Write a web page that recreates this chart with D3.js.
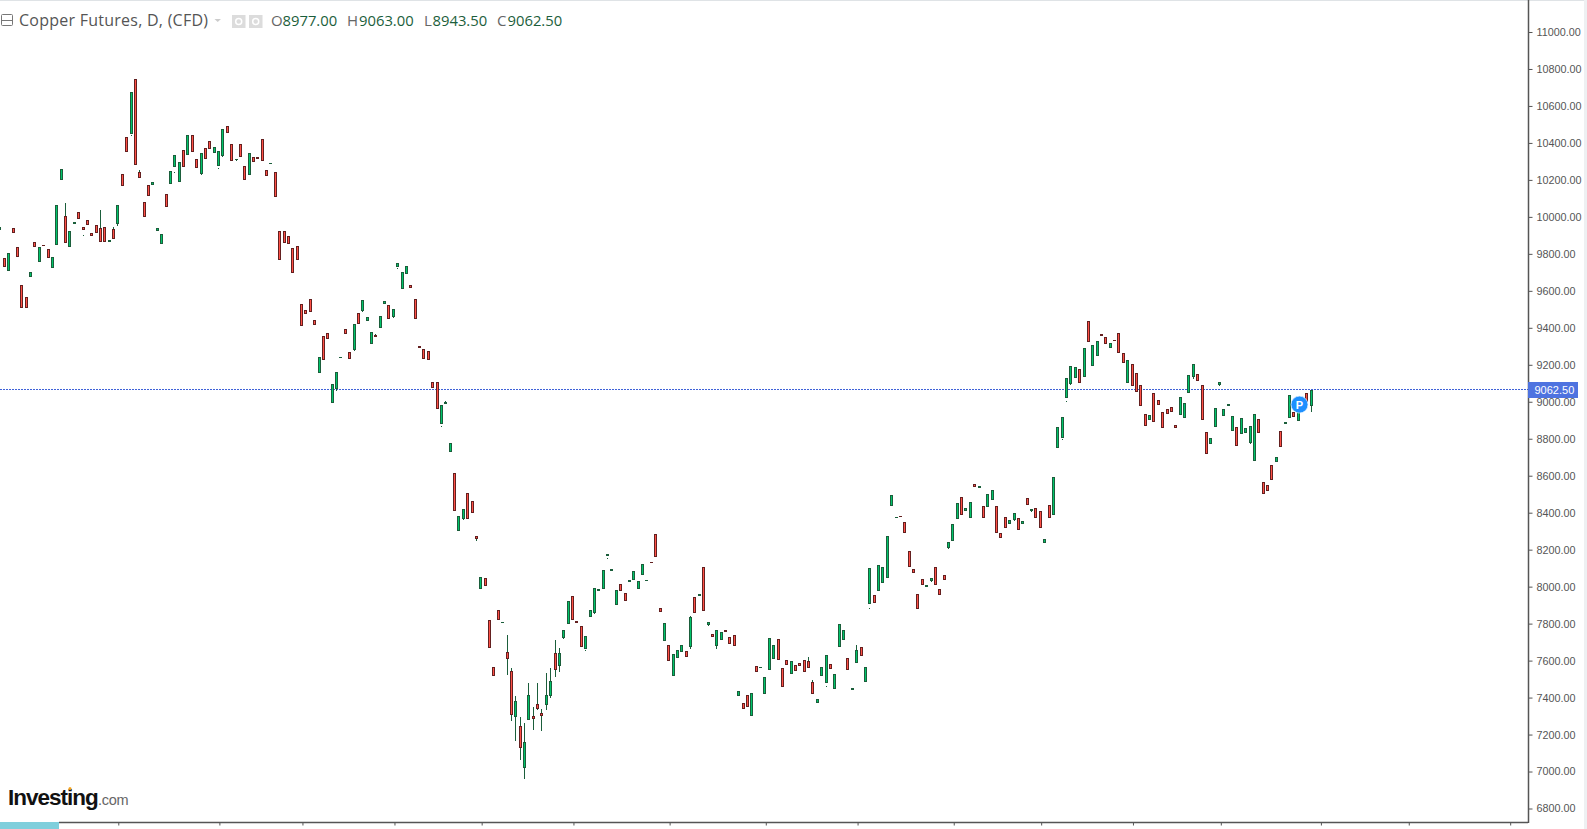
<!DOCTYPE html>
<html>
<head>
<meta charset="utf-8" />
<title>Copper Futures, D, (CFD)</title>
<script src="https://d3js.org/d3.v7.min.js"></script>
<style>
  html, body { margin: 0; padding: 0; background: #fff; overflow: hidden; }
  svg { display: block; }
</style>
</head>
<body>
<div id="chart"></div>
<script>
// daily candles. first candle is cut by the left edge
var firstIndex = -1;
var opens = [9931,9776,9709,9938,9835,9630,9565,9677,9862,9758,9848,9824,9725,9850,10201,10003,9839,9961,10024,9943,9981,9911,9954,9938,9943,9864,9933,9963,10230,10430,10450,10744,10241,10079,10171,10174,9925,9855,10122,10180,10272,10190,10360,10333,10441,10311,10234,10371,10409,10347,10277,10331,10490,10392,10308,10392,10273,10228,10322,10322,10419,10252,10288,10241,9922,9922,9895,9830,9841,
  9527,9494,9554,9440,9157,9354,9370,8995,9067,9235,9392,9267,9280,9478,9493,9439,9314,9361,9401,9530,9522,9460,9731,9612,9693,9630,9554,9300,9283,9273,9105,9105,8881,8990,8730,8613,8303,8368,8505,8461,8272,
  7989,8045,7818,7563,7872,7805,7645,7542,7297,7244,7021,7280,7298,7363,7315,7362,7408,7639,7572,7724,7800,7948,7812,7785,7664,7838,7857,7978,7989,8167,8086,7902,8012,7964,8027,8038,7989,8065,8032,8131,8283,7883,7708,7682,7518,7616,7648,7650,7675,7942,7951,
  8104,7794,7742,7681,7709,7764,7726,7737,7410,7369,7412,7302,7569,7562,7421,7551,7610,7715,7558,7601,7529,7574,7585,7601,7596,7482,7372,7518,7480,7580,7448,7675,7709,7612,7443,7589,7672,7486,
  7908,7953,7978,8021,8048,8438,8373,8380,8348,8191,8094,7958,8039,8000,8032,8104,7985,8061,8211,8249,8368,8483,8411,8373,8553,8535,8434,8432,8470,8434,8288,8375,8341,8360,8369,8341,8478,8411,8423,8407,8238,8440,8389,
  8752,8806,9022,9098,9130,9175,9136,9435,9195,9249,9365,9348,9293,9332,9370,9262,9103,9202,9154,9089,8932,8900,9046,9008,8943,8959,8970,8872,8930,8914,9049,9132,9148,9089,8835,8773,8865,9092,8925,8979,8844,8862,8827,8833,8779,8681,8905,8564,8548,8656,8676,8840,8882,8914,8943,8898,8990,9046,8977];
var closes = [9943,9731,9803,9915,9785,9509,9509,9700,9839,9835,9844,9779,9781,10062,10257,9860,9922,9972,9990,9931,9958,9898,9915,9866,9866,9875,9882,10062,10169,10353,10674,10282,10212,10001,10115,10187,9938,9905,10055,10246,10333,10295,10268,10441,10349,10266,10344,10315,10369,10376,10354,10473,10455,10304,10313,10326,10201,10344,10299,10315,10304,10223,10291,10109,9768,9860,9855,9698,9768,
  9411,9476,9487,9417,9240,9228,9341,9094,9159,9240,9368,9233,9419,9422,9549,9457,9375,9352,9462,9543,9449,9500,9749,9700,9732,9617,9449,9292,9233,9228,9076,8962,8981,8999,8775,8411,8380,8418,8368,8400,8259,
  8050,8005,7670,7518,7821,7807,7610,7307,7380,7129,7158,7412,7286,7340,7302,7412,7488,7551,7639,7764,7920,7821,7805,7675,7731,7872,7991,7985,8088,8176,8094,7980,7978,7924,8034,8083,8029,8121,8034,8130,8162,7865,7801,7600,7634,7655,7682,7621,7834,7859,7958,
  7870,7807,7729,7764,7753,7756,7691,7681,7434,7340,7351,7423,7540,7565,7509,7720,7682,7605,7459,7578,7596,7545,7572,7540,7562,7421,7390,7563,7628,7556,7526,7796,7764,7551,7450,7655,7627,7563,
  8099,7913,8115,8104,8272,8494,8375,8378,8292,8108,8076,7881,8011,8007,8045,8011,7957,8038,8240,8337,8451,8389,8423,8456,8541,8542,8373,8499,8521,8292,8265,8319,8359,8396,8308,8353,8443,8418,8373,8319,8256,8373,8591,
  8862,8916,9127,9192,9186,9103,9289,9325,9305,9327,9357,9314,9316,9330,9266,9211,9224,9087,9055,8979,8871,8927,8892,8984,8860,8936,8946,8860,9024,8991,9143,9202,9114,8903,8719,8802,8964,9105,8959,8986,8921,8762,8910,8856,8867,8932,8833,8503,8519,8579,8699,8757,8889,9035,8919,8985,8960,9000,9062.5];

// wicks and the loose wick bits left on the chart
var wickIndex = [14,18,22,25,26,29,31,39,45,49,50,53,76,80,82,85,89,90,100,101,105,108,115,116,117,118,119,120,121,122,123,124,125,126,127,128,133,135,138,157,161,163,184,185,188,195,198,212,216,231,235,242,243,244,272,278,285,299];
var wickHigh = [10073,9902,10037,9943,9963,10443,10253,10243,10234,10264,10331,10313,9067,9280,9493,9366,9460,9724,8869,9004,8368,8259,7737,7558,7407,7293,7261,7477,7347,7477,7336,7531,7558,7709,7666,7724,7657,7857,8155,7839,7794,7681,7619,7493,7463,7682,7885,8032,8211,8360,8411,8799,9004,9098,9132,9092,8779,8977];
var wickLow = [10003,9897,9938,9933,9952,10438,10241,10238,10226,10259,10324,10302,9060,9275,9485,9361,9453,9719,8864,8999,8360,8249,7524,7275,7167,7064,6961,7412,7226,7333,7221,7334,7399,7513,7540,7717,7652,7852,8150,7664,7787,7663,7596,7482,7458,7655,7880,8025,8204,8355,8404,8794,8999,9091,9125,9085,8773,8943.5];

var priceTicks = [6800,7000,7200,7400,7600,7800,8000,8200,8400,8600,8800,9000,9200,9400,9600,9800,10000,10200,10400,10600,10800,11000];
var timeTicks = [26.07,49.2,68.2,89.25,109.2,130.2,152.2,174.2,195.2,217.2,237.2,258.2,278.3,301.2,321.3,344.5];

var titleText = "Copper Futures, D, (CFD)";
var legendLabels = ["O","H","L","C"];
var legendValues = ["8977.00","9063.00","8943.50","9062.50"];
var legendLabelX = [271,347,424,497];
var legendValueX = [282.5,359,432.5,507.5];
var lastPrice = 9062.5;
var markerIndex = 296.3, markerPrice = 8990;

var width = 1587, height = 829;
var axisX = 1528, axisY = 822;

var svg = d3.select("#chart").append("svg")
  .attr("width", width)
  .attr("height", height)
  .style("font-family", "'Liberation Sans', Arial, sans-serif");

var x = d3.scaleLinear().domain([0, 299]).range([4.33, 1311.3]);
var y = d3.scaleLinear().domain([6800, 11000]).range([808.5, 32]);

// frame bits
svg.append("rect").attr("x", 0).attr("y", 0).attr("width", width).attr("height", 1).attr("fill", "#dfe3e6");
svg.append("rect").attr("x", 1584).attr("y", 0).attr("width", 3).attr("height", height).attr("fill", "#eef0f2");
svg.append("rect").attr("x", 0).attr("y", axisY).attr("width", 59).attr("height", height - axisY).attr("fill", "#7fcfdc");

function cx(i) { return Math.floor(x(i)) + 0.5; }

// last price line goes under the candles
var lineY = Math.floor(y(lastPrice)) - 0.5;
svg.append("line")
  .attr("x1", 0).attr("x2", axisX)
  .attr("y1", lineY).attr("y2", lineY)
  .attr("stroke", "#3f62d8")
  .attr("stroke-dasharray", "2,1");

svg.append("g").selectAll("line")
  .data(wickIndex)
  .enter().append("line")
    .attr("x1", function(d) { return cx(d); })
    .attr("x2", function(d) { return cx(d); })
    .attr("y1", function(d, i) { return Math.round(y(wickHigh[i])); })
    .attr("y2", function(d, i) { return Math.round(y(wickLow[i])); })
    .attr("stroke", "#1b5e3b");

var candles = svg.append("g").selectAll("g")
  .data(opens)
  .enter().append("g");

function bodyTop(i) { return Math.round(y(Math.max(opens[i], closes[i]))); }
function bodyBottom(i) { return Math.round(y(Math.min(opens[i], closes[i]))); }

candles.append("rect")
  .attr("x", function(d, i) { return cx(i + firstIndex) - 1.5; })
  .attr("y", function(d, i) { return bodyTop(i); })
  .attr("width", 3)
  .attr("height", function(d, i) { return Math.max(bodyBottom(i) - bodyTop(i), 1); })
  .attr("fill", function(d, i) { return closes[i] >= opens[i] ? "#1b5e3b" : "#642020"; });

candles.append("rect")
  .attr("x", function(d, i) { return cx(i + firstIndex) - 0.5; })
  .attr("y", function(d, i) { return bodyTop(i) + 1; })
  .attr("width", 1)
  .attr("height", function(d, i) { return Math.max(bodyBottom(i) - bodyTop(i) - 2, 0); })
  .attr("fill", function(d, i) { return closes[i] >= opens[i] ? "#00c46a" : "#ff5046"; });

// axes
var yAxis = svg.append("g")
  .attr("transform", "translate(" + (axisX + 0.5) + ",0)")
  .call(d3.axisRight(y).tickValues(priceTicks).tickFormat(d3.format(".2f")).tickSize(4).tickPadding(4));
yAxis.select(".domain").remove();
yAxis.selectAll("line").attr("stroke", "#555");
yAxis.selectAll("text").attr("fill", "#555").style("font-size", "10.8px").style("font-family", "'Liberation Sans', Arial, sans-serif");

var xAxis = svg.append("g")
  .attr("transform", "translate(0," + (axisY + 0.5) + ")")
  .call(d3.axisBottom(x).tickValues(timeTicks).tickFormat("").tickSize(3));
xAxis.select(".domain").remove();
xAxis.selectAll("line").attr("stroke", "#555");

svg.append("line").attr("x1", axisX + 0.5).attr("x2", axisX + 0.5).attr("y1", 0).attr("y2", axisY + 1).attr("stroke", "#555").attr("stroke-width", 1.5);
svg.append("line").attr("x1", 59).attr("x2", axisX).attr("y1", axisY + 0.5).attr("y2", axisY + 0.5).attr("stroke", "#555").attr("stroke-width", 1.5);

// last price tag
svg.append("rect").attr("x", axisX).attr("y", 382).attr("width", 50).attr("height", 16).attr("fill", "#4e73e0");
svg.append("text")
  .attr("x", axisX + 6.5).attr("y", 394)
  .attr("fill", "#fff")
  .style("font-size", "11px")
  .text(d3.format(".2f")(lastPrice));

// P marker
var markerX = x(markerIndex), markerY = y(markerPrice) + 1;
svg.append("circle").attr("cx", markerX).attr("cy", markerY).attr("r", 8.5).attr("fill", "#1e90ff").attr("stroke", "#e8f4ff").attr("stroke-width", 0.7);
svg.append("text").attr("x", markerX).attr("y", markerY + 4).attr("text-anchor", "middle").attr("fill", "#fff")
  .style("font-size", "11px").style("font-weight", "bold").text("P");

// header
var head = svg.append("g").style("font-family", "'Open Sans', sans-serif");
head.append("rect").attr("x", 1.5).attr("y", 14.5).attr("width", 11).attr("height", 11).attr("rx", 1).attr("fill", "none").attr("stroke", "#777");
head.append("line").attr("x1", 1.5).attr("x2", 12.5).attr("y1", 20.5).attr("y2", 20.5).attr("stroke", "#777");
head.append("text").attr("x", 19).attr("y", 25.5).attr("fill", "#555").style("font-size", "16px").style("font-weight", 500).style("letter-spacing", "0.25px").text(titleText);
head.append("path").attr("d", "M214.5,19 L221,19 L217.7,22 Z").attr("fill", "#ccc");
head.selectAll(".ico").data([232, 249]).enter().append("rect").attr("class", "ico").attr("x", function(d) { return d; }).attr("y", 15).attr("width", 13.5).attr("height", 13).attr("fill", "#dcdcdc");
head.selectAll(".dot").data([238.7, 255.7]).enter().append("circle").attr("class", "dot").attr("cx", function(d) { return d; }).attr("cy", 21.5).attr("r", 3).attr("fill", "none").attr("stroke", "#fff").attr("stroke-width", 1.5);

legendLabels.forEach(function(l, i) {
  head.append("text").attr("x", legendLabelX[i]).attr("y", 25.5).attr("fill", "#666").style("font-size", "15px").text(l);
  head.append("text").attr("x", legendValueX[i]).attr("y", 25.5).attr("fill", "#1b5e3b").style("font-size", "14.8px").text(legendValues[i]);
});

// logo
var logo = svg.append("g");
logo.append("text").attr("x", 8).attr("y", 805).attr("fill", "#111").style("font-size", "22.5px").style("font-weight", "bold").style("letter-spacing", "-1px").text("Investing");
logo.append("text").attr("x", 98).attr("y", 805).attr("fill", "#666").style("font-size", "14.5px").style("letter-spacing", "-0.3px").text(".com");
logo.append("circle").attr("cx", 70).attr("cy", 788.5).attr("r", 1.5).attr("fill", "#f5a623");
</script>
</body>
</html>
